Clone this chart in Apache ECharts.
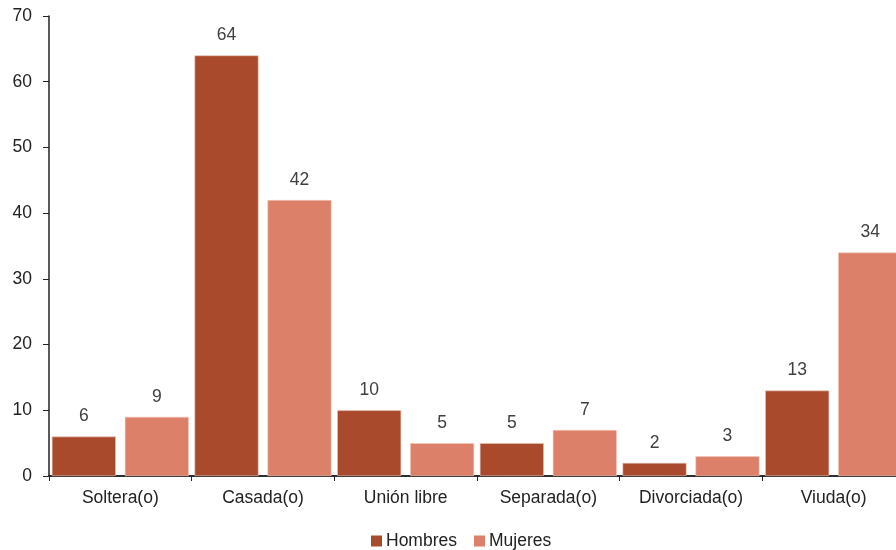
<!DOCTYPE html>
<html><head><meta charset="utf-8">
<script src="https://cdn.jsdelivr.net/npm/echarts@6/dist/echarts.min.js"></script>
<style>html,body{margin:0;padding:0;background:#fff;overflow:hidden;width:896px;height:550px}#c{width:912px;height:550px}</style>
</head><body><div id="c"></div>
<script>
const categories = ['Soltera(o)', 'Casada(o)', 'Unión libre', 'Separada(o)', 'Divorciada(o)', 'Viuda(o)'];
const hombres = [6, 64, 10, 5, 2, 13];
const mujeres = [9, 42, 5, 7, 3, 34];
const yTicks = [0, 10, 20, 30, 40, 50, 60, 70];

const chart = echarts.init(document.getElementById('c'), null, {renderer: 'canvas'});
const font = 'Liberation Sans, Arial, sans-serif';
const lbl = {show: true, position: 'top', distance: 11, color: '#404040', fontSize: 17.5, fontFamily: font};
chart.setOption({
  animation: false,
  grid: {left: 49, top: 16, right: 7, height: 460},
  legend: {
    data: ['Hombres', 'Mujeres'], top: 527, left: 366, itemWidth: 11, itemHeight: 11, itemGap: 17,
    itemStyle: {borderWidth: 0},
    icon: 'rect', textStyle: {color: '#222', fontSize: 17.5, fontFamily: font, padding: [0, 0, 0, -1]}
  },
  xAxis: [{
    type: 'category', data: categories,
    axisLine: {lineStyle: {color: '#222', width: 1.5}},
    axisTick: {show: false},
    axisLabel: {color: '#222', fontSize: 17.5, fontFamily: font, margin: 13}
  }, {
    type: 'category', data: categories.flatMap(c => [c + 'a', c + 'b']), position: 'bottom',
    axisLine: {lineStyle: {color: '#222', width: 1.5}},
    axisTick: {show: true, length: 5, lineStyle: {color: '#222'}},
    axisLabel: {show: false}
  }],
  yAxis: {
    type: 'value', min: 0, max: 70, interval: 10,
    axisLine: {show: true, lineStyle: {color: '#222', width: 1.5}},
    axisTick: {show: true, length: 6, lineStyle: {color: '#222'}},
    splitLine: {show: false},
    axisLabel: {color: '#222', fontSize: 17.5, fontFamily: font, margin: 17,
      formatter: v => yTicks.includes(v) ? String(v) : ''}
  },
  series: [
    {name: 'Hombres', type: 'bar', data: hombres, barWidth: 64, barGap: '14%',
     itemStyle: {color: '#AA4A2C', borderColor: '#E8C6BA', borderWidth: 0.6}, label: lbl},
    {name: 'Mujeres', type: 'bar', data: mujeres, barWidth: 64,
     itemStyle: {color: '#DD8069', borderColor: '#F2C8BC', borderWidth: 0.6}, label: lbl}
  ]
});
</script></body></html>
